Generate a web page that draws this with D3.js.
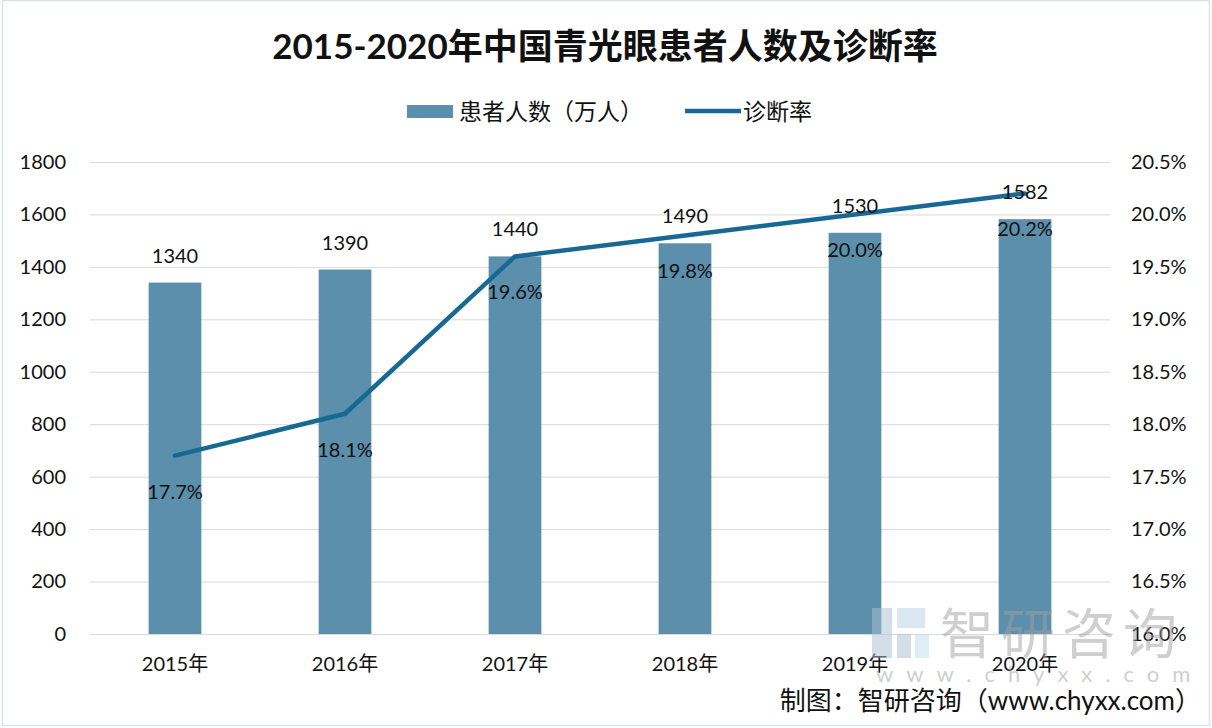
<!DOCTYPE html>
<html><head><meta charset="utf-8">
<script src="https://cdn.jsdelivr.net/npm/d3@7"></script>
<style>
body{margin:0;background:#fff;}
svg{display:block;}
text{font-family:Lato,"Noto Sans CJK SC",sans-serif;}
</style></head>
<body><svg id="c" width="1212" height="728"></svg>
<script>
const categories = ["2015年","2016年","2017年","2018年","2019年","2020年"];
const patients = [1340,1390,1440,1490,1530,1582];
const rates = [17.7,18.1,19.6,19.8,20.0,20.2];
const leftTicks = [0,200,400,600,800,1000,1200,1400,1600,1800];
const rightTicks = [16.0,16.5,17.0,17.5,18.0,18.5,19.0,19.5,20.0,20.5];
const title = "2015-2020年中国青光眼患者人数及诊断率";
const seriesNames = ["患者人数（万人）","诊断率"];
const source = "制图：智研咨询（www.chyxx.com）";

const svg = d3.select("#c");
const W=1212,H=728;
const m={l:90,r:1110,t:162,b:634};
const barColor="#5b8fab", lineColor="#176892";

svg.append("rect").attr("width",W).attr("height",H).attr("fill","#fff");
svg.append("rect").attr("x",2.5).attr("y",0.5).attr("width",W-5).attr("height",H-3)
  .attr("fill","none").attr("stroke","#dde2e8").attr("stroke-width",1.5);

const x = d3.scaleBand().domain(categories).range([m.l,m.r]).paddingInner(0.69).paddingOuter(0.345);
const yL = d3.scaleLinear().domain([0,1800]).range([m.b,m.t]);
const yR = d3.scaleLinear().domain([16,20.5]).range([m.b,m.t]);

svg.append("g").selectAll("line").data(leftTicks).join("line")
  .attr("x1",m.l).attr("x2",m.r).attr("y1",d=>yL(d)+0.5).attr("y2",d=>yL(d)+0.5)
  .attr("stroke","#d9d9d9").attr("stroke-width",1);

const gl = svg.append("g").attr("transform",`translate(66,0)`)
  .call(d3.axisLeft(yL).tickValues(leftTicks).tickSize(0).tickPadding(0).tickFormat(d3.format("d")));
gl.select(".domain").remove();
gl.selectAll("text").attr("font-size",20).attr("fill","#111").attr("font-family","Lato,sans-serif");

const gr = svg.append("g").attr("transform",`translate(1131,0)`)
  .call(d3.axisRight(yR).tickValues(rightTicks).tickSize(0).tickPadding(0).tickFormat(d=>d.toFixed(1)+"%"));
gr.select(".domain").remove();
gr.selectAll("text").attr("font-size",20).attr("fill","#111").attr("font-family","Lato,sans-serif");

svg.append("g").selectAll("rect").data(patients).join("rect")
  .attr("x",(d,i)=>x(categories[i])).attr("width",x.bandwidth())
  .attr("y",d=>yL(d)).attr("height",d=>yL(0)-yL(d))
  .attr("fill",barColor);

const gx = svg.append("g").attr("transform",`translate(0,${m.b+19})`)
  .call(d3.axisBottom(x).tickSize(0).tickPadding(0));
gx.select(".domain").remove();
gx.selectAll("text").attr("font-size",20).attr("fill","#111").attr("dy","0.9em");

const cx = i=>x(categories[i])+x.bandwidth()/2;
svg.append("path").datum(rates)
  .attr("d",d3.line().x((d,i)=>cx(i)).y(d=>yR(d)))
  .attr("fill","none").attr("stroke",lineColor).attr("stroke-width",4.5)
  .attr("stroke-linejoin","round").attr("stroke-linecap","round");

svg.append("g").selectAll("text").data(patients).join("text")
  .attr("x",(d,i)=>cx(i)).attr("y",d=>yL(d)-20)
  .attr("text-anchor","middle").attr("font-size",20).attr("fill","#111")
  .text(d=>d);

svg.append("g").selectAll("text").data(rates).join("text")
  .attr("x",(d,i)=>cx(i)).attr("y",d=>yR(d)+43)
  .attr("text-anchor","middle").attr("font-size",20).attr("fill","#111")
  .text(d=>d.toFixed(1)+"%");

svg.append("text").attr("x",605).attr("y",59).attr("text-anchor","middle")
  .attr("font-size",35).attr("font-weight","bold").attr("fill","#111")
  .attr("font-family","'Noto Sans CJK SC',sans-serif").text(title);

svg.append("rect").attr("x",407).attr("y",105).attr("width",46).attr("height",13).attr("fill",barColor);
svg.append("text").attr("x",459).attr("y",120).attr("font-size",23).attr("fill","#111")
  .attr("font-family","'Noto Sans CJK SC',sans-serif").text(seriesNames[0]);
svg.append("line").attr("x1",685).attr("x2",741).attr("y1",111).attr("y2",111)
  .attr("stroke",lineColor).attr("stroke-width",4.5);
svg.append("text").attr("x",743).attr("y",120).attr("font-size",23).attr("fill","#111")
  .attr("font-family","'Noto Sans CJK SC',sans-serif").text(seriesNames[1]);

const wm = svg.append("g").attr("opacity",0.5);
wm.append("rect").attr("x",872).attr("y",608).attr("width",20).attr("height",50).attr("fill","#a9bfd4");
wm.append("rect").attr("x",897).attr("y",608).attr("width",28).attr("height",20).attr("fill","#b9d3ea");
wm.append("rect").attr("x",897).attr("y",634).attr("width",14).attr("height",24).attr("fill","#a9bfd4");
wm.append("rect").attr("x",915).attr("y",634).attr("width",14).attr("height",24).attr("fill","#c5dcef");
wm.append("text").attr("x",940).attr("y",654).attr("font-size",54).attr("fill","#a0a0a0")
  .attr("letter-spacing",7).attr("font-family","'Noto Sans CJK SC',sans-serif").text("智研咨询");
wm.append("text").attr("x",876).attr("y",682).attr("font-size",22).attr("fill","#a0a0a0")
  .attr("letter-spacing",13).attr("font-family","'Noto Sans CJK SC',sans-serif").text("www.chyxx.com");

svg.append("text").attr("x",1201).attr("y",710).attr("text-anchor","end").attr("font-size",26)
  .attr("fill","#111").attr("font-family","'Noto Sans CJK SC',sans-serif").text(source);
</script></body></html>
